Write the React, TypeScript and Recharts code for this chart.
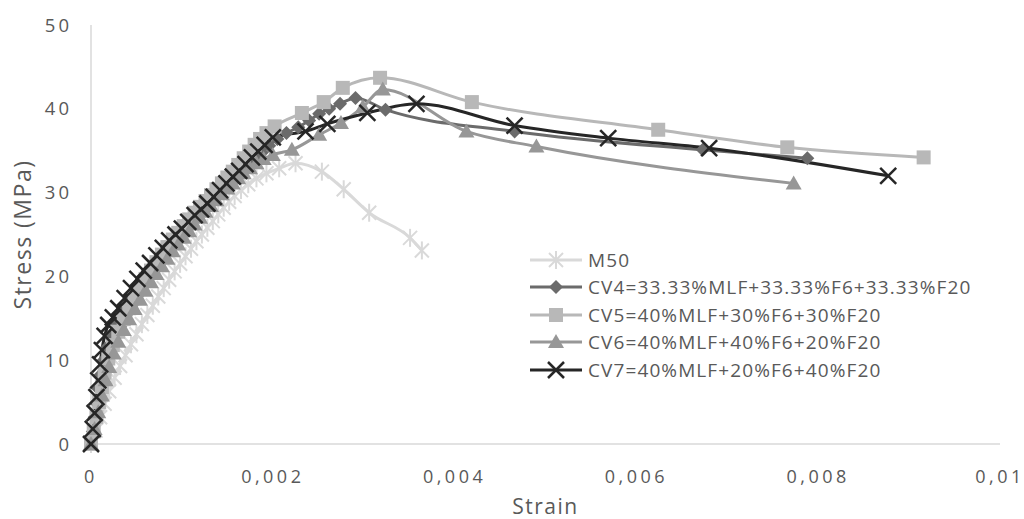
import React from "react";
import {
  LineChart,
  Line,
  XAxis,
  YAxis,
  Legend,
  Label,
} from "recharts";

// strain / stress readings per mix
const m50Strain = [0, 0.00005, 0.0001, 0.00015, 0.0002, 0.00026, 0.00032, 0.00038, 0.00044, 0.0005, 0.00056, 0.00062, 0.00068, 0.00074, 0.0008, 0.00086, 0.00092, 0.00098, 0.00104, 0.0011, 0.00116, 0.00122, 0.00128, 0.00134, 0.0014, 0.00146, 0.00152, 0.00158, 0.00165, 0.00173, 0.00182, 0.00193, 0.00207, 0.00225, 0.00254, 0.00278, 0.00306, 0.00351, 0.00364];
const m50Stress = [0, 1.6, 3.2, 4.8, 6.3, 7.9, 9.3, 10.6, 11.9, 13.1, 14.3, 15.4, 16.5, 17.6, 18.6, 19.6, 20.6, 21.5, 22.4, 23.3, 24.2, 25.0, 25.8, 26.6, 27.4, 28.2, 28.9, 29.6, 30.3, 31.0, 31.7, 32.3, 32.9, 33.5, 32.5, 30.4, 27.6, 24.6, 23.1];

const cv4Strain = [0, 0.00002, 0.00004, 0.00006, 0.00008, 0.0001, 0.00013, 0.00017, 0.00022, 0.00028, 0.00034, 0.0004, 0.00047, 0.00054, 0.00061, 0.00068, 0.00075, 0.00082, 0.00089, 0.00096, 0.00103, 0.0011, 0.00117, 0.00124, 0.00131, 0.00138, 0.00145, 0.00152, 0.00159, 0.00166, 0.00173, 0.0018, 0.00188, 0.00196, 0.00205, 0.00215, 0.00228, 0.0024, 0.00251, 0.00262, 0.00274, 0.00291, 0.00324, 0.00466, 0.00673, 0.00788];
const cv4Stress = [0, 1.5, 3.2, 4.9, 6.6, 8.2, 9.9, 11.5, 13.0, 14.4, 15.6, 16.8, 18.0, 19.1, 20.1, 21.1, 22.1, 23.0, 23.9, 24.8, 25.6, 26.4, 27.2, 28.0, 28.8, 29.6, 30.4, 31.1, 31.8, 32.6, 33.3, 34.0, 34.8, 35.6, 36.4, 37.1, 37.8, 38.6, 39.4, 40.0, 40.6, 41.3, 39.9, 37.3, 35.1, 34.1];

const cv5Strain = [0, 0.00003, 0.00006, 0.00009, 0.00012, 0.00015, 0.00019, 0.00024, 0.0003, 0.00036, 0.00042, 0.00048, 0.00054, 0.0006, 0.00066, 0.00072, 0.00078, 0.00084, 0.0009, 0.00096, 0.00102, 0.00108, 0.00114, 0.0012, 0.00126, 0.00132, 0.00138, 0.00144, 0.0015, 0.00156, 0.00162, 0.00168, 0.00174, 0.0018, 0.00186, 0.00193, 0.00202, 0.00232, 0.00256, 0.00277, 0.00318, 0.00419, 0.00624, 0.00766, 0.00916];
const cv5Stress = [0, 1.5, 3.2, 5.0, 6.8, 8.5, 10.2, 11.8, 13.4, 14.9, 16.2, 17.4, 18.6, 19.7, 20.7, 21.7, 22.6, 23.5, 24.4, 25.2, 26.0, 26.8, 27.6, 28.3, 29.0, 29.7, 30.4, 31.1, 31.8, 32.5, 33.3, 34.1, 34.9, 35.7, 36.4, 37.1, 37.9, 39.5, 40.8, 42.5, 43.7, 40.8, 37.5, 35.4, 34.2];

const cv6Strain = [0, 0.00004, 0.00008, 0.00012, 0.00016, 0.0002, 0.00025, 0.0003, 0.00036, 0.00042, 0.00048, 0.00054, 0.0006, 0.00066, 0.00072, 0.00078, 0.00084, 0.0009, 0.00096, 0.00102, 0.00108, 0.00114, 0.0012, 0.00126, 0.00132, 0.00138, 0.00144, 0.0015, 0.00156, 0.00162, 0.00168, 0.00175, 0.00182, 0.0019, 0.002, 0.00221, 0.00251, 0.00275, 0.00299, 0.00321, 0.00413, 0.0049, 0.00773];
const cv6Stress = [0, 1.8, 3.8, 5.8, 7.6, 9.2, 10.8, 12.2, 13.6, 14.9, 16.1, 17.2, 18.3, 19.3, 20.3, 21.2, 22.1, 23.0, 23.8, 24.6, 25.4, 26.2, 27.0, 27.7, 28.4, 29.1, 29.8, 30.5, 31.1, 31.7, 32.3, 32.9, 33.5, 34.0, 34.5, 35.1, 36.9, 38.3, 40.2, 42.3, 37.3, 35.5, 31.1];

const cv7Strain = [0, 0.00002, 0.00004, 0.00006, 0.00008, 0.0001, 0.00012, 0.00015, 0.00019, 0.00024, 0.0003, 0.00037, 0.00044, 0.00051, 0.00058, 0.00065, 0.00072, 0.00079, 0.00086, 0.00093, 0.001, 0.00107, 0.00114, 0.00121, 0.00128, 0.00135, 0.00142, 0.00149, 0.00156, 0.00163, 0.0017, 0.00177, 0.00184, 0.00191, 0.002, 0.00236, 0.0026, 0.00304, 0.00358, 0.00466, 0.00569, 0.0068, 0.00877];
const cv7Stress = [0, 1.8, 3.7, 5.6, 7.6, 9.5, 11.2, 12.9, 14.2, 15.1, 16.2, 17.4, 18.6, 19.7, 20.7, 21.6, 22.5, 23.4, 24.3, 25.0, 25.7, 26.5, 27.3, 28.0, 28.7, 29.5, 30.3, 31.1, 31.9, 32.6, 33.4, 34.2, 34.9, 35.7, 36.6, 37.3, 38.2, 39.5, 40.6, 38.0, 36.5, 35.3, 32.0];

const xTicks = [0, 0.002, 0.004, 0.006, 0.008, 0.01];
const yTicks = [0, 10, 20, 30, 40, 50];

const FONT = '"Open Sans", "Noto Sans", sans-serif';
const TEXT = "#595959";

const toPoints = (xs: number[], ys: number[]) =>
  xs.map((strain, i) => ({ strain, stress: ys[i] }));

type Shape = "asterisk" | "diamond" | "square" | "triangle" | "cross";

function Marker({ cx, cy, shape, color }: { cx: number; cy: number; shape: Shape; color: string }) {
  if (shape === "square") {
    return <rect x={cx - 7} y={cy - 7} width={14} height={14} fill={color} />;
  }
  if (shape === "diamond") {
    return (
      <polygon
        points={`${cx},${cy - 7} ${cx + 7},${cy} ${cx},${cy + 7} ${cx - 7},${cy}`}
        fill={color}
      />
    );
  }
  if (shape === "triangle") {
    return (
      <polygon
        points={`${cx},${cy - 8} ${cx + 8},${cy + 6} ${cx - 8},${cy + 6}`}
        fill={color}
      />
    );
  }
  if (shape === "cross") {
    return (
      <g stroke={color} strokeWidth={2.5}>
        <line x1={cx - 8} y1={cy - 8} x2={cx + 8} y2={cy + 8} />
        <line x1={cx - 8} y1={cy + 8} x2={cx + 8} y2={cy - 8} />
      </g>
    );
  }
  return (
    <g stroke={color} strokeWidth={2}>
      <line x1={cx - 7} y1={cy - 7} x2={cx + 7} y2={cy + 7} />
      <line x1={cx - 7} y1={cy + 7} x2={cx + 7} y2={cy - 7} />
      <line x1={cx} y1={cy - 9} x2={cx} y2={cy + 9} />
    </g>
  );
}

const series = [
  { name: "M50", data: toPoints(m50Strain, m50Stress), color: "#d9d9d9", shape: "asterisk" as Shape },
  { name: "CV4=33.33%MLF+33.33%F6+33.33%F20", data: toPoints(cv4Strain, cv4Stress), color: "#6b6b6b", shape: "diamond" as Shape },
  { name: "CV5=40%MLF+30%F6+30%F20", data: toPoints(cv5Strain, cv5Stress), color: "#b8b8b8", shape: "square" as Shape },
  { name: "CV6=40%MLF+40%F6+20%F20", data: toPoints(cv6Strain, cv6Stress), color: "#979797", shape: "triangle" as Shape },
  { name: "CV7=40%MLF+20%F6+40%F20", data: toPoints(cv7Strain, cv7Stress), color: "#262626", shape: "cross" as Shape },
];

function renderLegend() {
  return (
    <div style={{ fontFamily: FONT, fontSize: 19, letterSpacing: 1.1, color: TEXT }}>
      {series.map((s) => (
        <div key={s.name} style={{ display: "flex", alignItems: "center", height: 27.5 }}>
          <svg width={56} height={20} style={{ marginRight: 4 }}>
            <line x1={2} y1={10} x2={54} y2={10} stroke={s.color} strokeWidth={3} />
            <Marker cx={28} cy={10} shape={s.shape} color={s.color} />
          </svg>
          <span>{s.name}</span>
        </div>
      ))}
    </div>
  );
}

export default function App() {
  return (
    <div style={{ position: "absolute", left: 0, top: 0, background: "#fff" }}>
      <LineChart
        width={1024}
        height={519}
        margin={{ top: 25, right: 24, bottom: 0, left: 0 }}
      >
        <XAxis
          type="number"
          dataKey="strain"
          domain={[0, 0.01]}
          ticks={xTicks}
          tickFormatter={(v: number) => String(v).replace(".", ",")}
          height={75}
          axisLine={{ stroke: "#d9d9d9", strokeWidth: 1.5 }}
          tickLine={false}
          tickMargin={20}
          tick={{ fill: TEXT, fontSize: 18, fontFamily: FONT, letterSpacing: 3.5 }}
        >
          <Label
            content={({ viewBox }: any) => (
              <text
                x={viewBox.x + viewBox.width / 2}
                y={viewBox.y + 62}
                textAnchor="middle"
                dominantBaseline="central"
                fill={TEXT}
                fontSize={21}
                letterSpacing={1.5}
                fontFamily={FONT}
              >
                Strain
              </text>
            )}
          />
        </XAxis>
        <YAxis
          type="number"
          dataKey="stress"
          domain={[0, 50]}
          ticks={yTicks}
          width={91}
          axisLine={{ stroke: "#d9d9d9", strokeWidth: 1.5 }}
          tickLine={false}
          tickMargin={13}
          tick={{ fill: TEXT, fontSize: 18.5, fontFamily: FONT, letterSpacing: 3 }}
        >
          <Label
            content={({ viewBox }: any) => {
              const cx = viewBox.x + 22;
              const cy = viewBox.y + viewBox.height / 2;
              return (
                <text
                  x={cx}
                  y={cy}
                  transform={`rotate(-90, ${cx}, ${cy})`}
                  textAnchor="middle"
                  dominantBaseline="central"
                  fill={TEXT}
                  fontSize={23}
                  letterSpacing={1.5}
                  fontFamily={FONT}
                >
                  Stress (MPa)
                </text>
              );
            }}
          />
        </YAxis>
        <Legend
          layout="vertical"
          align="center"
          verticalAlign="middle"
          content={renderLegend}
          wrapperStyle={{ left: 528, top: 246, width: 490 }}
        />
        {series.map((s) => (
          <Line
            key={s.name}
            name={s.name}
            data={s.data}
            dataKey="stress"
            type="monotone"
            stroke={s.color}
            strokeWidth={3}
            isAnimationActive={false}
            activeDot={false}
            dot={(p: any) => (
              <Marker
                key={`${s.shape}-${p.index}`}
                cx={p.cx}
                cy={p.cy}
                shape={s.shape}
                color={s.color}
              />
            )}
          />
        ))}
      </LineChart>
    </div>
  );
}
